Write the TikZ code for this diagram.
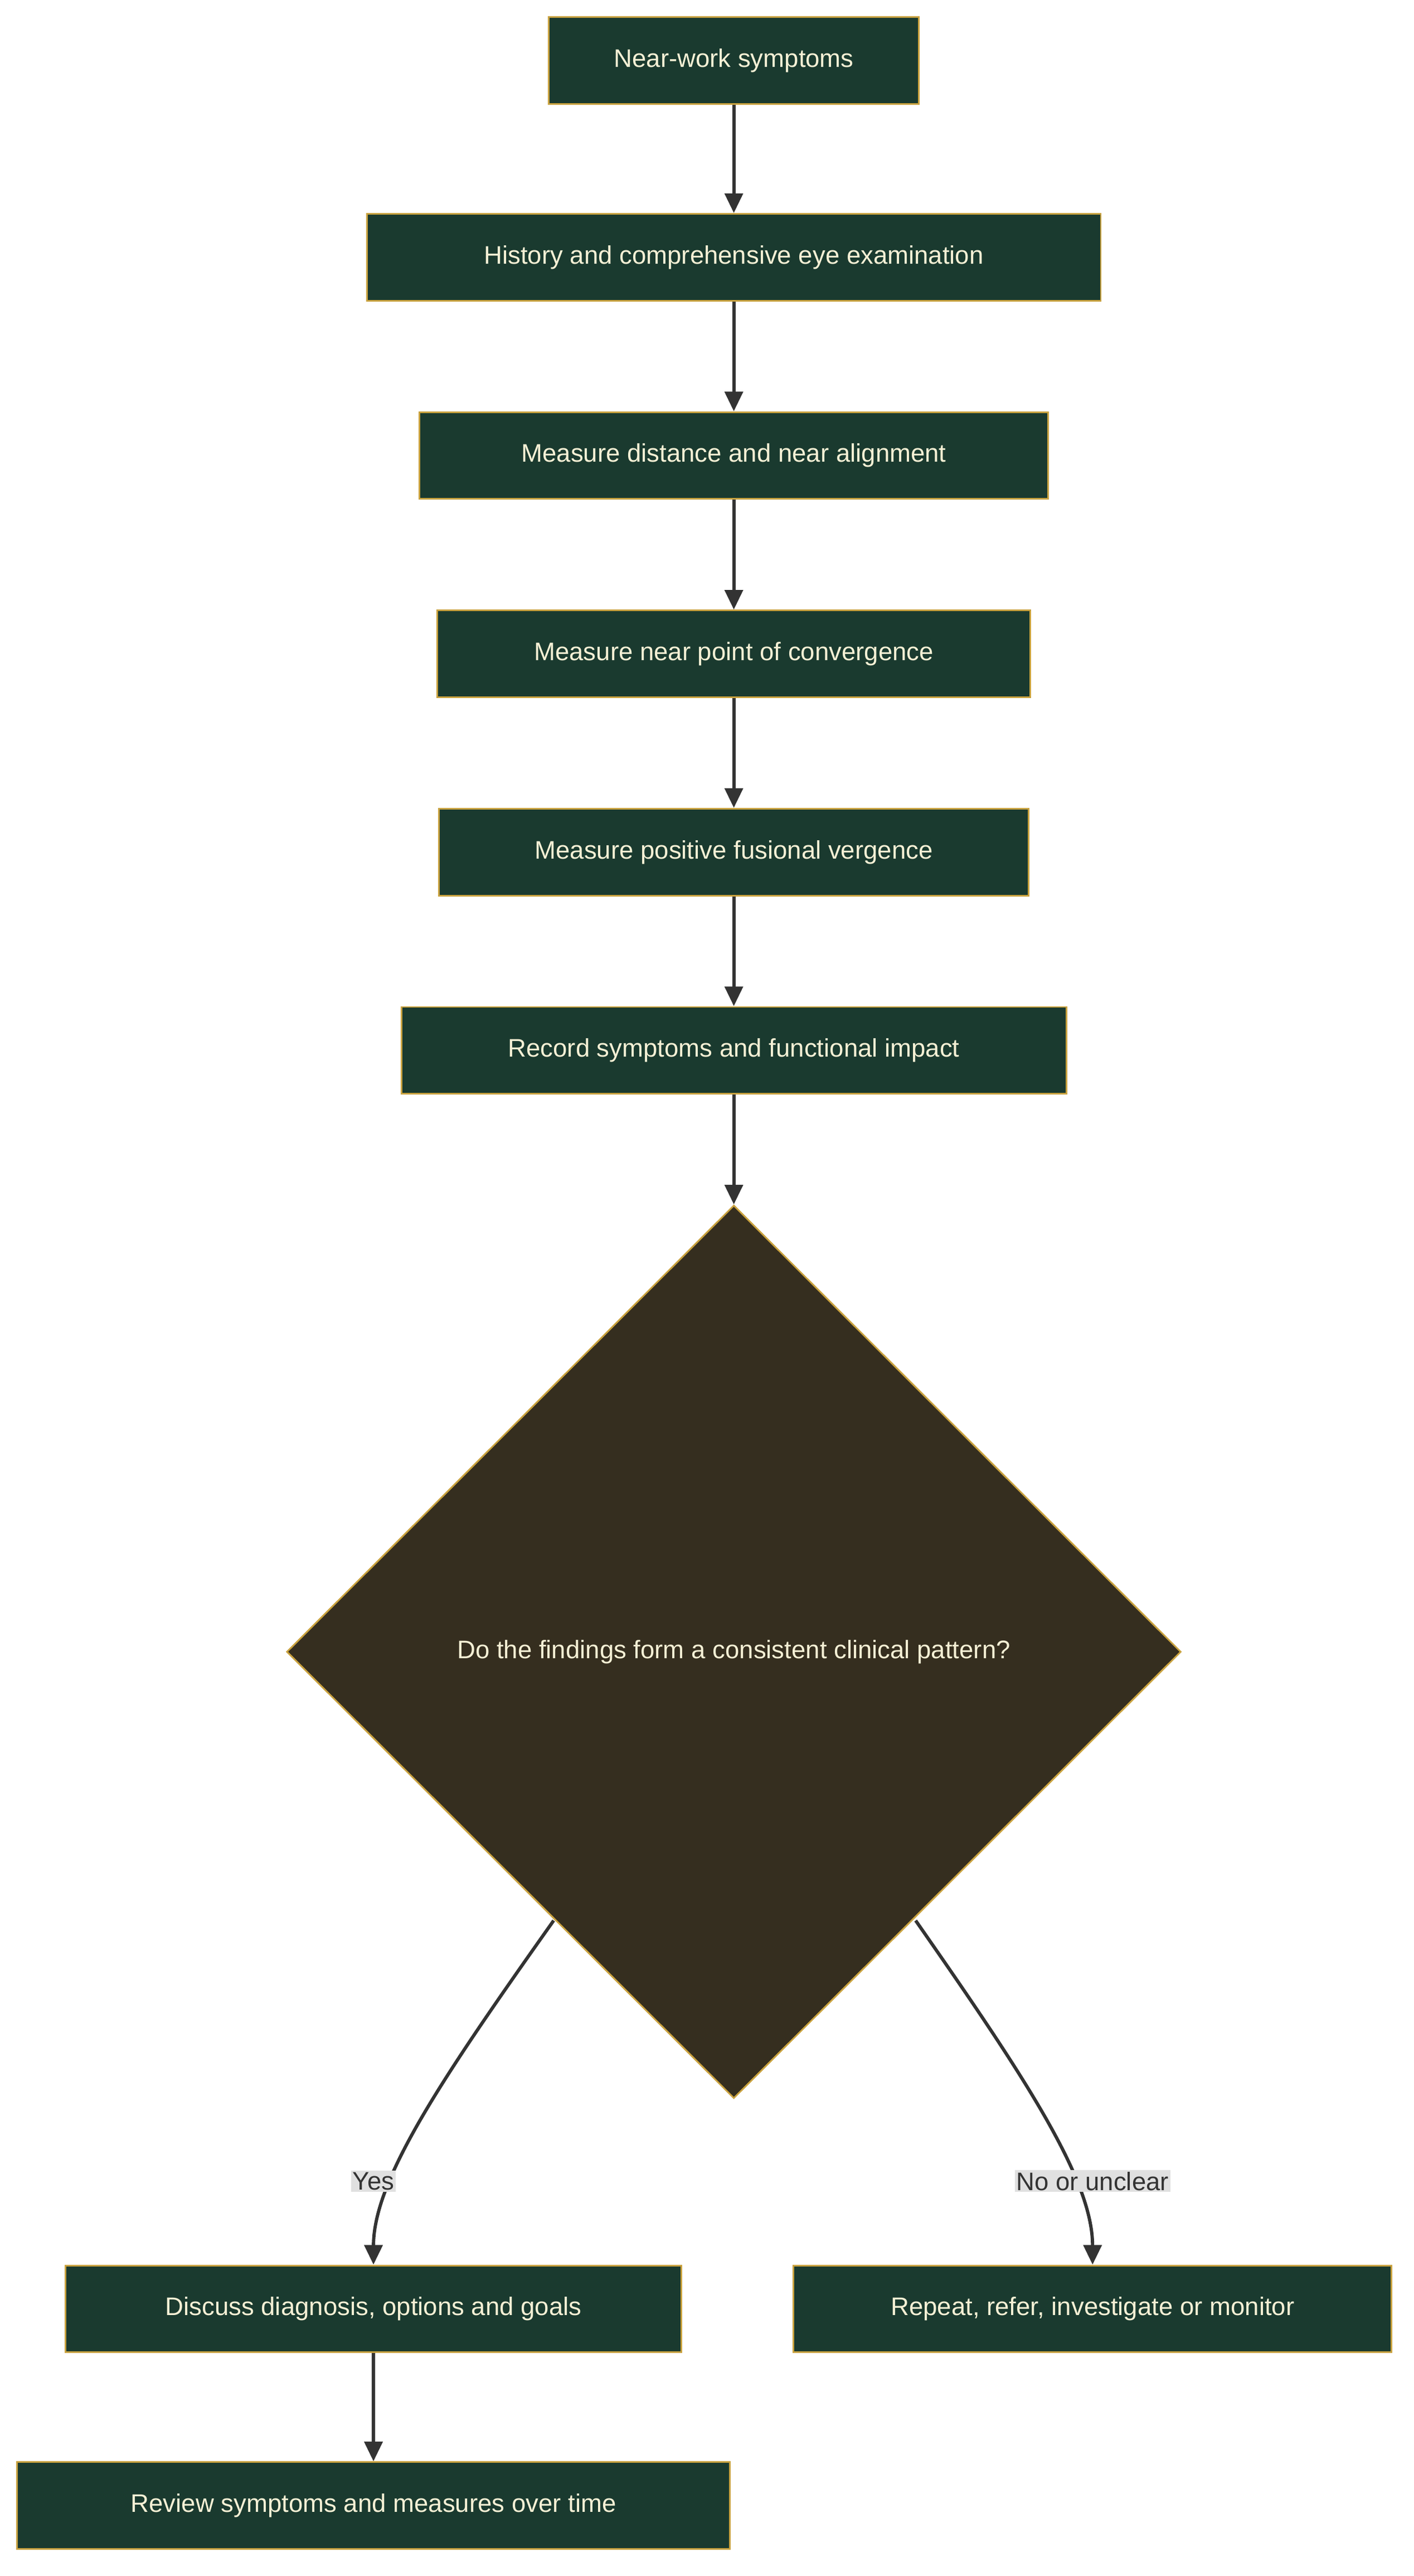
\documentclass[tikz,border=0pt]{standalone}
\usepackage{fontspec}
\setmainfont{Liberation Sans}
\usetikzlibrary{shapes.geometric,arrows.meta}
\definecolor{bfill}{HTML}{1A3A2F}
\definecolor{bdraw}{HTML}{C9A23F}
\definecolor{dfill}{HTML}{352E1F}
\definecolor{txt}{HTML}{F5F0D5}
\definecolor{ln}{HTML}{333333}
\definecolor{lbg}{HTML}{E0E0E0}
\begin{document}
\begin{tikzpicture}[x=1pt,y=-1pt,
 box/.style={draw=bdraw,fill=bfill,text=txt,line width=1pt,minimum height=53pt,inner xsep=10pt,font=\fontsize{15.5}{18}\selectfont},
 dia/.style={diamond,draw=bdraw,fill=dfill,text=txt,line width=1pt,minimum width=546pt,minimum height=545pt,aspect=1,inner sep=0pt,font=\fontsize{15.5}{18}\selectfont},
 arr/.style={draw=ln,line width=2pt,-{Triangle[length=12pt,width=11pt]}},
 lab/.style={fill=lbg,text=ln,inner sep=1pt,font=\fontsize{15.5}{18}\selectfont}]
\useasboundingbox[fill=white] (0,0) rectangle (863,1572);
\node[box,minimum width=226pt] (a) at (448,37) {Near-work symptoms};
\node[box,minimum width=448pt] (b) at (448,157) {History and comprehensive eye examination};
\node[box,minimum width=384pt] (c) at (448,278) {Measure distance and near alignment};
\node[box,minimum width=362pt] (d) at (448,399) {Measure near point of convergence};
\node[box,minimum width=360pt] (e) at (448,520) {Measure positive fusional vergence};
\node[box,minimum width=406pt] (f) at (448,641) {Record symptoms and functional impact};
\node[dia] (g) at (448,1008) {Do the findings form a consistent clinical pattern?};
\node[box,minimum width=376pt] (y) at (228,1409) {Discuss diagnosis, options and goals};
\node[box,minimum width=365pt] (n) at (667,1409) {Repeat, refer, investigate or monitor};
\node[box,minimum width=435pt] (r) at (228,1529) {Review symptoms and measures over time};
\draw[arr] (a) -- (b);
\draw[arr] (b) -- (c);
\draw[arr] (c) -- (d);
\draw[arr] (d) -- (e);
\draw[arr] (e) -- (f);
\draw[arr] (f) -- (g.north);
\coordinate (gl) at (338,1172);
\coordinate (gr) at (559,1172);
\draw[arr] (gl) .. controls (270,1268) and (228,1330) .. (y.north);
\draw[arr] (gr) .. controls (626,1268) and (667,1330) .. (n.north);
\node[lab] (ly) at (228,1331) {Yes};
\node[lab] (ln) at (667,1331) {No or unclear};
\draw[arr] (y) -- (r);
\end{tikzpicture}
\end{document}
